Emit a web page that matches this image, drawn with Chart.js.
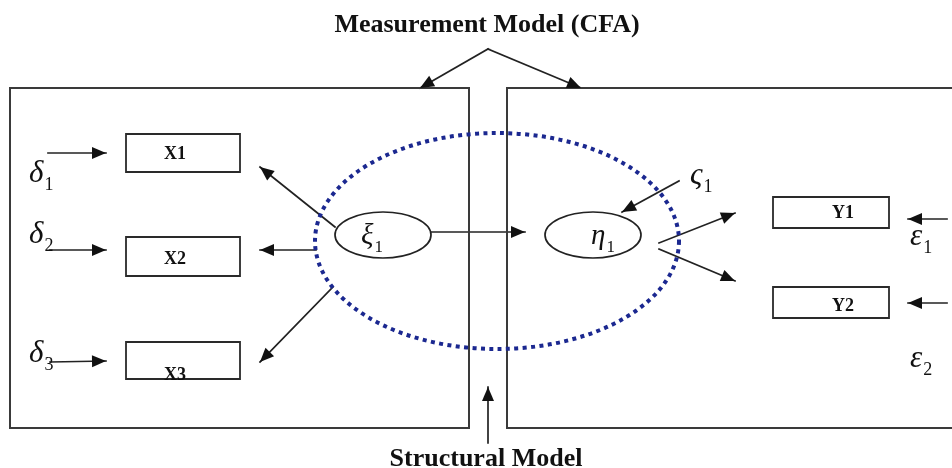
<!DOCTYPE html>
<html>
<head>
<meta charset="utf-8">
<script src="https://cdn.jsdelivr.net/npm/chart.js@4"></script>
<style>
  html, body { margin: 0; padding: 0; background: #fff; }
  canvas { display: block; }
</style>
</head>
<body>
<canvas id="myChart" width="952" height="468"></canvas>
<script>
// all coordinates are data units: x 0..952, y 0..468 (top down)
const titleTop = 'Measurement Model (CFA)';
const titleBottom = 'Structural Model';
const titlePos = [[487, 32], [486, 466]];

const panels = [
  [10, 88, 469, 428],
  [507, 88, 960, 428],
];

const indicatorLabels = ['X1', 'X2', 'X3', 'Y1', 'Y2'];
const indicatorBoxes = [
  [126, 134, 240, 172],
  [126, 237, 240, 276],
  [126, 342, 240, 379],
  [773, 197, 889, 228],
  [773, 287, 889, 318],
];
const indicatorTextPos = [[175, 159], [175, 264], [175, 380], [843, 218], [843, 311]];

const latentLetters = ['ξ', 'η'];
const latentCenters = [[383, 235], [593, 235]];
const latentRadius = [48, 23];
const latentTextPos = [[361, 244], [591, 244]];

const errorLetters = ['δ', 'δ', 'δ', 'ς', 'ε', 'ε'];
const errorSubs = ['1', '2', '3', '1', '1', '2'];
const errorPos = [[29, 182], [29, 243], [29, 362], [690, 184], [910, 245], [910, 367]];

// [fromX, fromY, tipX, tipY]
const arrows = [
  [488, 49, 420, 88],
  [488, 49, 581, 88],
  [48, 153, 106, 153],
  [50, 250, 106, 250],
  [50, 362, 106, 361],
  [335, 227, 260, 167],
  [316, 250, 260, 250],
  [333, 287, 260, 362],
  [431, 232, 525, 232],
  [679, 181, 622, 212],
  [659, 243, 735, 213],
  [659, 249, 735, 281],
  [947, 219, 908, 219],
  [947, 303, 908, 303],
  [488, 443, 488, 387],
];

const structuralOval = [497, 241, 182, 108];

function rectPoints(r) {
  return [
    { x: r[0], y: r[1] }, { x: r[2], y: r[1] }, { x: r[2], y: r[3] },
    { x: r[0], y: r[3] }, { x: r[0], y: r[1] },
  ];
}

let datasets = [];
panels.forEach((p) => {
  datasets.push({ data: rectPoints(p), borderColor: '#3a3a3a', borderWidth: 2 });
});
indicatorBoxes.forEach((b) => {
  datasets.push({ data: rectPoints(b), borderColor: '#2a2a2a', borderWidth: 1.8 });
});
arrows.forEach((a) => {
  datasets.push({
    data: [{ x: a[0], y: a[1] }, { x: a[2], y: a[3] }],
    borderColor: '#222',
    borderWidth: 1.7,
  });
});
datasets.forEach((d) => {
  d.showLine = true;
  d.pointRadius = 0;
  d.tension = 0;
  d.borderCapStyle = 'square';
});

const diagramPlugin = {
  id: 'diagram',
  afterDatasetsDraw(chart) {
    const ctx = chart.ctx;
    const xs = chart.scales.x;
    const ys = chart.scales.y;
    const px = (v) => xs.getPixelForValue(v);
    const py = (v) => ys.getPixelForValue(v);
    ctx.save();

    // dotted structural oval
    ctx.beginPath();
    ctx.ellipse(px(structuralOval[0]), py(structuralOval[1]),
      Math.abs(px(structuralOval[2]) - px(0)), Math.abs(py(structuralOval[3]) - py(0)),
      0, 0, Math.PI * 2);
    ctx.setLineDash([4, 4.4]);
    ctx.lineWidth = 4;
    ctx.strokeStyle = '#1b2890';
    ctx.stroke();
    ctx.setLineDash([]);

    // arrow heads
    ctx.fillStyle = '#111';
    arrows.forEach((a) => {
      const x0 = px(a[0]), y0 = py(a[1]), x1 = px(a[2]), y1 = py(a[3]);
      const ang = Math.atan2(y1 - y0, x1 - x0);
      const len = 14, half = 6;
      ctx.beginPath();
      ctx.moveTo(x1, y1);
      ctx.lineTo(x1 - len * Math.cos(ang) + half * Math.sin(ang), y1 - len * Math.sin(ang) - half * Math.cos(ang));
      ctx.lineTo(x1 - len * Math.cos(ang) - half * Math.sin(ang), y1 - len * Math.sin(ang) + half * Math.cos(ang));
      ctx.closePath();
      ctx.fill();
    });

    // latent ovals
    ctx.strokeStyle = '#222';
    ctx.lineWidth = 1.7;
    latentCenters.forEach((c, i) => {
      ctx.beginPath();
      ctx.fillStyle = '#fff';
      ctx.ellipse(px(c[0]), py(c[1]), latentRadius[0], latentRadius[1], 0, 0, Math.PI * 2);
      ctx.fill();
      ctx.stroke();
    });

    ctx.fillStyle = '#111';
    ctx.textBaseline = 'alphabetic';

    // greek letters with subscripts
    function greek(letter, sub, x, y, size) {
      ctx.textAlign = 'left';
      ctx.font = 'italic ' + size + 'px "Liberation Serif"';
      ctx.fillText(letter, px(x), py(y));
      const w = ctx.measureText(letter).width;
      ctx.font = Math.round(size * 0.58) + 'px "Liberation Serif"';
      ctx.fillText(sub, px(x) + w + 1, py(y) + 8);
    }
    latentLetters.forEach((l, i) => {
      greek(l, '1', latentTextPos[i][0], latentTextPos[i][1], 29);
    });
    errorLetters.forEach((l, i) => {
      greek(l, errorSubs[i], errorPos[i][0], errorPos[i][1], 31);
    });

    // box labels
    ctx.textAlign = 'center';
    ctx.font = 'bold 18px "Liberation Serif"';
    indicatorLabels.forEach((l, i) => {
      ctx.fillText(l, px(indicatorTextPos[i][0]), py(indicatorTextPos[i][1]));
    });

    // titles
    ctx.font = 'bold 26px "Liberation Serif"';
    ctx.fillText(titleTop, px(titlePos[0][0]), py(titlePos[0][1]));
    ctx.fillText(titleBottom, px(titlePos[1][0]), py(titlePos[1][1]));

    ctx.restore();
  },
};

const ctx = document.getElementById('myChart').getContext('2d');
const myChart = new Chart(ctx, {
  type: 'scatter',
  data: { datasets: datasets },
  options: {
    responsive: false,
    animation: false,
    layout: { padding: 0 },
    plugins: {
      legend: { display: false },
      tooltip: { enabled: false },
    },
    scales: {
      x: { type: 'linear', min: 0, max: 952, display: false },
      y: { type: 'linear', min: 0, max: 468, reverse: true, display: false },
    },
  },
  plugins: [diagramPlugin],
});
</script>
</body>
</html>
